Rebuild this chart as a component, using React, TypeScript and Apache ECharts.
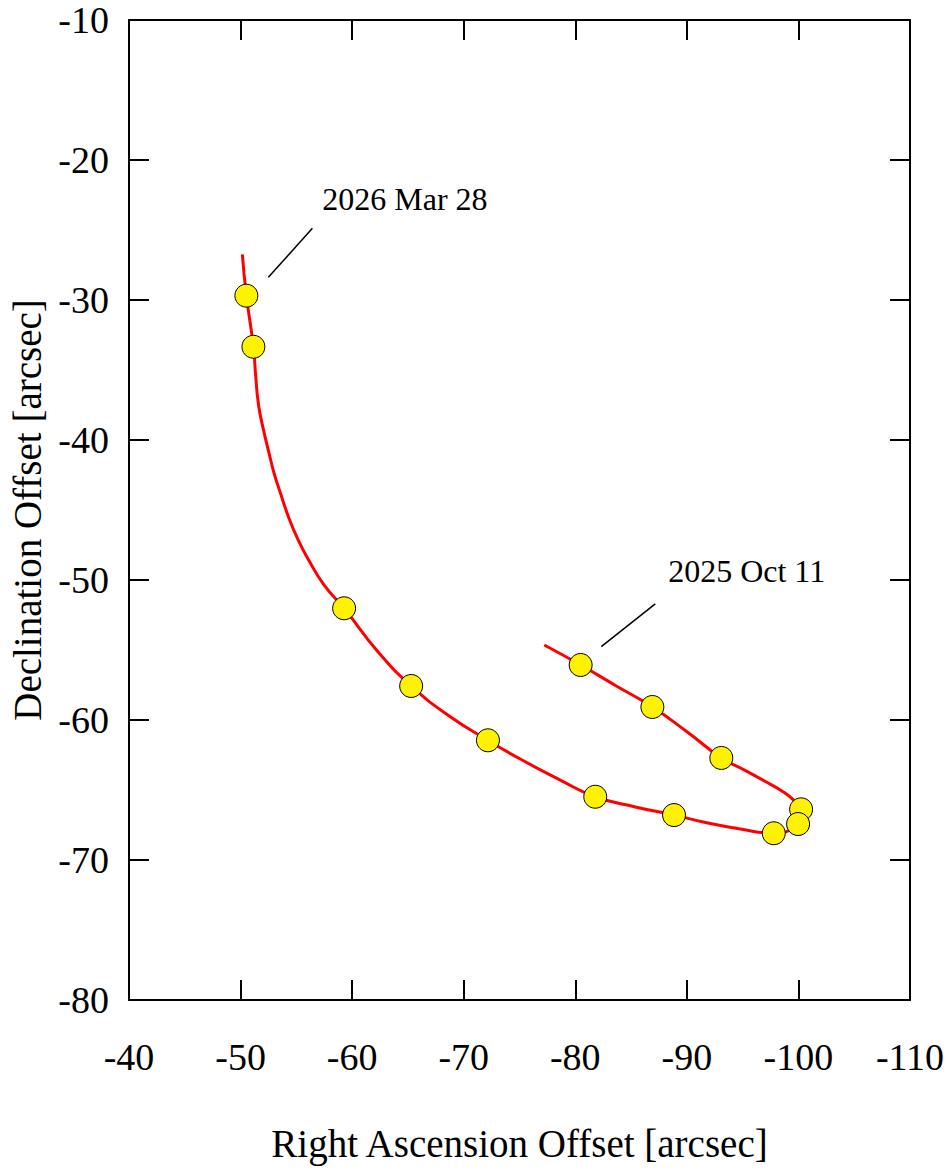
import React, { useEffect, useRef } from "react";
import * as echarts from "echarts";

// Apparent track of the object (offsets in arcsec), from 2025 Oct 11 to 2026 Mar 28
const trackRA = [
  -77.22, -80.48, -83.68, -86.91, -90.04, -93.09, -94.98, -96.95, -98.65, -99.55,
  -100.24, -100.31, -99.97, -99.28, -97.85, -94.8, -91.66, -88.85, -85.38, -81.79,
  -78.65, -75.07, -72.17, -68.7, -65.29, -62.33, -59.28, -57.49, -56.1, -55.16,
  -54.29, -53.63, -53.0, -52.53, -52.06, -51.61, -51.35, -51.15, -50.52, -50.16,
];
const trackDec = [
  -54.64, -56.07, -57.57, -59.07, -60.86, -62.71, -63.5, -64.36, -65.14, -65.71,
  -66.38, -66.93, -67.43, -67.86, -68.09, -67.79, -67.32, -66.79, -66.21, -65.48,
  -64.29, -62.79, -61.45, -59.71, -57.57, -55.14, -52.02, -50.36, -48.57, -47.14,
  -45.48, -43.93, -42.36, -40.86, -39.29, -37.5, -35.36, -33.34, -29.69, -26.74,
];

// Dated positions marked along the track
const obsRA = [
  -80.48, -86.91, -93.09, -100.24, -99.97, -97.79, -88.85, -81.79, -72.17, -65.29,
  -59.28, -51.15, -50.52,
];
const obsDec = [
  -56.07, -59.07, -62.71, -66.38, -67.43, -68.09, -66.79, -65.48, -61.45, -57.57,
  -52.02, -33.34, -29.69,
];

// Date labels: text anchor and leader line ends
const dateLabels = ["2025 Oct 11", "2026 Mar 28"];
const labelRA = [-88.28, -57.28];
const labelDec = [-49.35, -22.79];
const leaderFromRA = [-82.33, -52.49];
const leaderFromDec = [-54.76, -28.38];
const leaderToRA = [-87.17, -56.44];
const leaderToDec = [-51.71, -24.88];

const xTicks = { min: -110, max: -40, interval: 10 };
const yTicks = { min: -80, max: -10, interval: 10 };

const FONT = "Liberation Serif";

export default function App() {
  const ref = useRef<HTMLDivElement>(null);

  useEffect(() => {
    if (!ref.current) return;
    const chart = echarts.init(ref.current, null, { renderer: "svg" });

    const axisLine = { show: true, onZero: false, lineStyle: { color: "#000", width: 2 } };
    const axisTick = { show: true, inside: true, length: 20, lineStyle: { color: "#000", width: 2 } };
    const tickFont = { fontSize: 38, color: "#000", fontFamily: FONT };
    const titleFont = { fontSize: 39, color: "#000", fontFamily: FONT };

    const option: any = {
      animation: false,
      backgroundColor: "#fff",
      textStyle: { fontFamily: FONT },
      grid: { left: 129, right: 41, top: 20, bottom: 172, containLabel: false },
      xAxis: [
        {
          type: "value",
          inverse: true,
          ...xTicks,
          position: "bottom",
          name: "Right Ascension Offset [arcsec]",
          nameLocation: "middle",
          nameGap: 124,
          nameTextStyle: titleFont,
          axisLine,
          axisTick,
          axisLabel: { ...tickFont, margin: 38 },
          splitLine: { show: false },
        },
        {
          type: "value",
          inverse: true,
          ...xTicks,
          position: "top",
          axisLine,
          axisTick,
          axisLabel: { show: false },
          splitLine: { show: false },
        },
      ],
      yAxis: [
        {
          type: "value",
          ...yTicks,
          position: "left",
          name: "Declination Offset [arcsec]",
          nameLocation: "middle",
          nameRotate: 90,
          nameGap: 80,
          nameTextStyle: titleFont,
          axisLine,
          axisTick,
          axisLabel: { ...tickFont, margin: 20 },
          splitLine: { show: false },
        },
        {
          type: "value",
          ...yTicks,
          position: "right",
          axisLine,
          axisTick,
          axisLabel: { show: false },
          splitLine: { show: false },
        },
      ],
      series: [
        {
          type: "line",
          xAxisIndex: 0,
          yAxisIndex: 0,
          data: trackRA.map((x, i) => [x, trackDec[i]]),
          smooth: 0.5,
          showSymbol: false,
          symbol: "none",
          lineStyle: { color: "#ff0000", width: 3 },
          z: 2,
          markLine: {
            silent: true,
            symbol: ["none", "none"],
            label: { show: false },
            lineStyle: { color: "#000", width: 1.5, type: "solid" },
            data: leaderFromRA.map((x, i) => [
              { coord: [x, leaderFromDec[i]] },
              { coord: [leaderToRA[i], leaderToDec[i]] },
            ]),
          },
          markPoint: {
            silent: true,
            symbol: "circle",
            symbolSize: 1,
            itemStyle: { color: "rgba(0,0,0,0)" },
            label: {
              show: true,
              position: "right",
              distance: 0,
              align: "left",
              verticalAlign: "middle",
              formatter: "{b}",
              fontSize: 32,
              color: "#000",
              fontFamily: FONT,
            },
            data: dateLabels.map((name, i) => ({
              name,
              coord: [labelRA[i], labelDec[i]],
            })),
          },
        },
        {
          type: "scatter",
          xAxisIndex: 0,
          yAxisIndex: 0,
          data: obsRA.map((x, i) => [x, obsDec[i]]),
          symbol: "circle",
          symbolSize: 23,
          itemStyle: { color: "#fff200", borderColor: "#000", borderWidth: 1, opacity: 1 },
          z: 3,
        },
      ],
    };

    chart.setOption(option);
    return () => chart.dispose();
  }, []);

  return (
    <div
      ref={ref}
      style={{ position: "fixed", left: 0, top: 0, width: 951, height: 1172, background: "#fff" }}
    />
  );
}
